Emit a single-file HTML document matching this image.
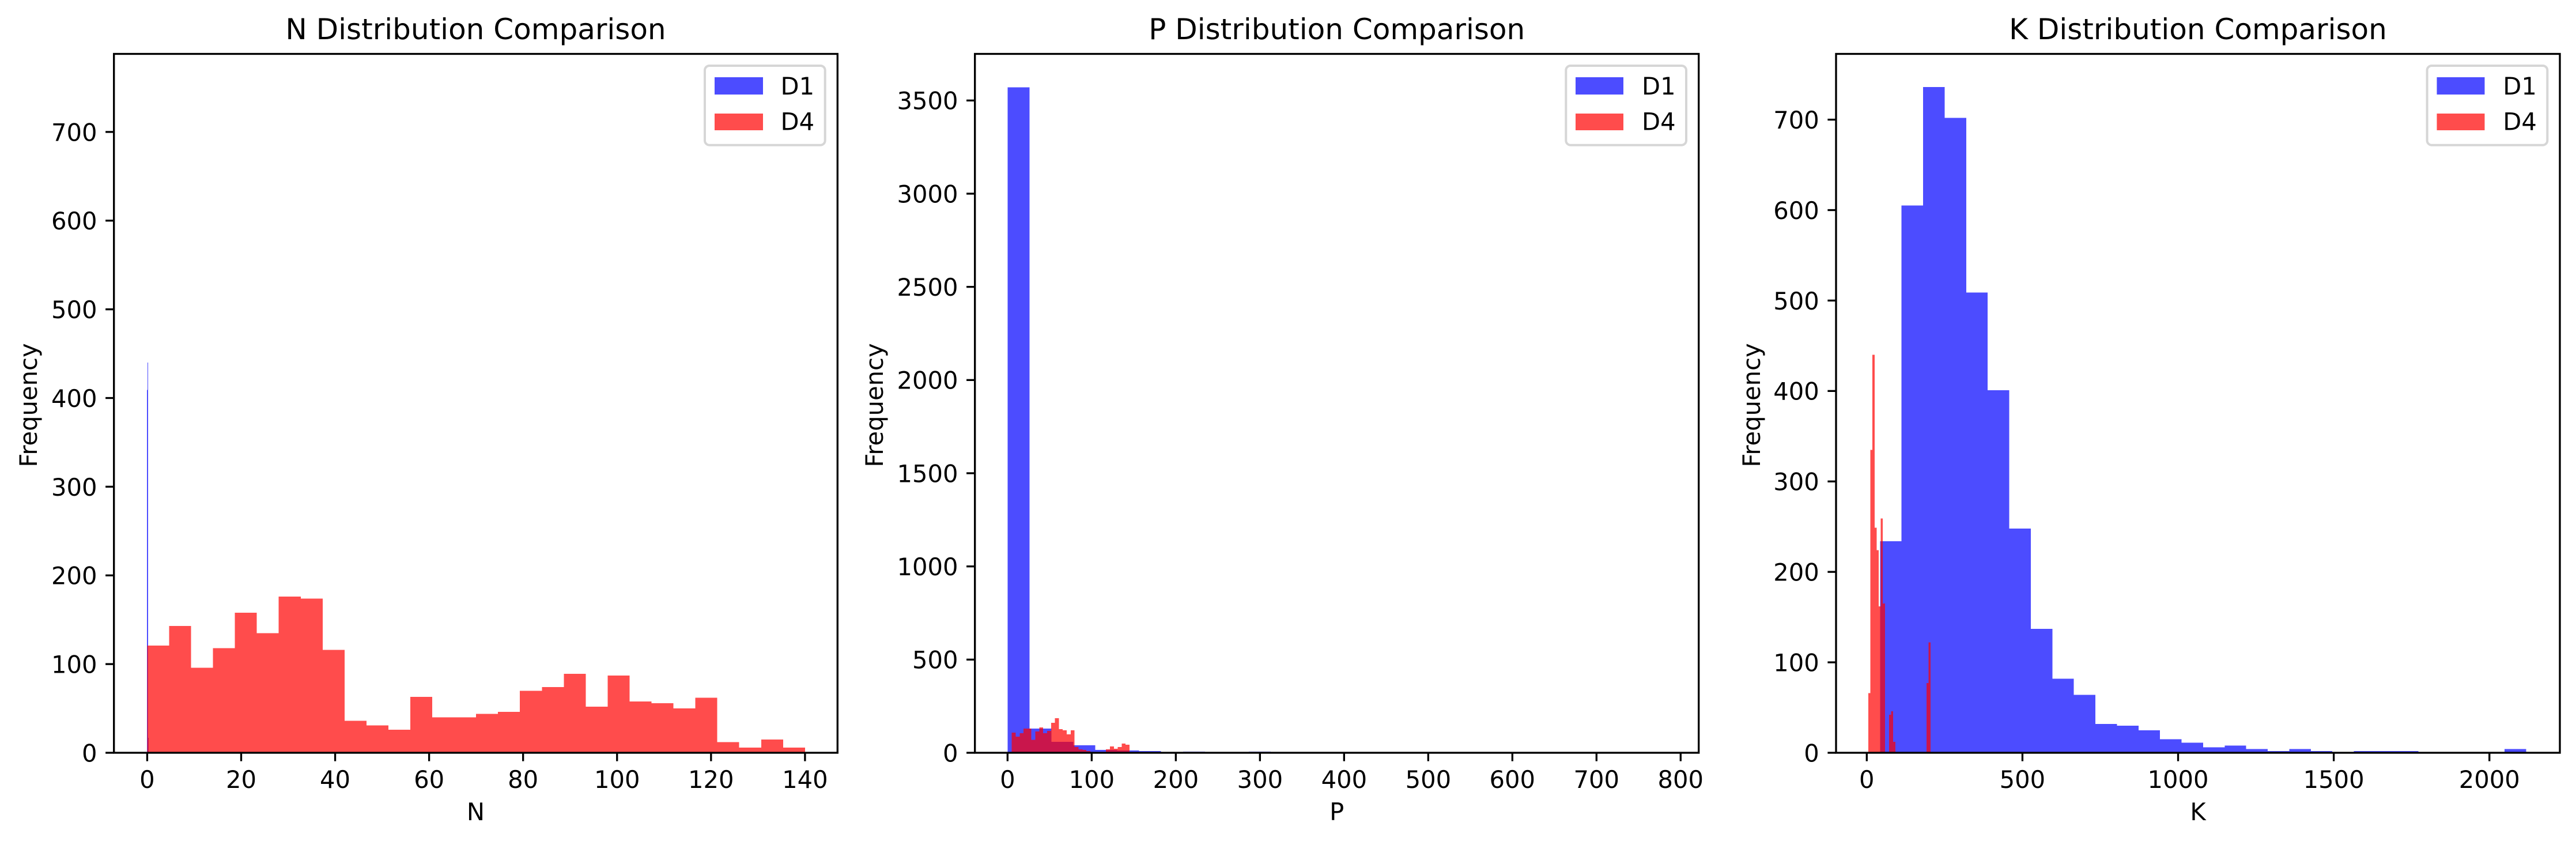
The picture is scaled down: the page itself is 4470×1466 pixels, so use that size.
<!DOCTYPE html>
<html lang="en">
<head>
<meta charset="utf-8">
<title>N, P and K Distribution Comparison</title>
<style>
html,body{margin:0;padding:0;background:#fff;width:4470px;height:1466px;overflow:hidden}
svg{display:block}
text{font-family:"DejaVu Sans","Liberation Sans",sans-serif;fill:#000}
.title{font-size:50px;text-anchor:middle}
.label{font-size:41.67px;text-anchor:middle}
.tick{font-size:41.67px}
.legend-text{font-size:41.67px}
.frame{fill:none;stroke:#000;stroke-width:3.33}
.legend-box{fill:#fff;fill-opacity:.8;stroke:#d6d6d6;stroke-width:4}
</style>
</head>
<body>
<svg id="figure" xmlns="http://www.w3.org/2000/svg" width="4470" height="1466" viewBox="0 0 4470 1466">
  <rect x="0" y="0" width="4470" height="1466" fill="#fff"/>

  <g id="panel-n">
    <text class="title" x="825.5" y="68">N Distribution Comparison</text>
    <g id="n-bars"></g>
    <g id="n-ticks"></g>
    <rect class="frame" x="197.7" y="93.5" width="1255.6" height="1212.5"/>
    <text class="label" x="825.5" y="1423">N</text>
    <text class="label" transform="translate(64,703) rotate(-90)">Frequency</text>
    <g>
      <rect class="legend-box" x="1223" y="114" width="208.7" height="137.7" rx="8" ry="8"/>
      <rect x="1240" y="134" width="84" height="30" fill="#0000ff" fill-opacity=".7" shape-rendering="crispEdges"/>
      <text class="legend-text" x="1354.5" y="164">D1</text>
      <rect x="1240" y="197" width="84" height="29" fill="#ff0000" fill-opacity=".7" shape-rendering="crispEdges"/>
      <text class="legend-text" x="1354.5" y="225.7">D4</text>
    </g>
  </g>

  <g id="panel-p">
    <text class="title" x="2319.7" y="68">P Distribution Comparison</text>
    <g id="p-bars"></g>
    <g id="p-ticks"></g>
    <rect class="frame" x="1691.7" y="93.5" width="1256" height="1212.5"/>
    <text class="label" x="2319.7" y="1423">P</text>
    <text class="label" transform="translate(1532,703) rotate(-90)">Frequency</text>
    <g>
      <rect class="legend-box" x="2717.3" y="114" width="208.7" height="137.7" rx="8" ry="8"/>
      <rect x="2734" y="134" width="83" height="30" fill="#0000ff" fill-opacity=".7" shape-rendering="crispEdges"/>
      <text class="legend-text" x="2849" y="164">D1</text>
      <rect x="2734" y="197" width="83" height="29" fill="#ff0000" fill-opacity=".7" shape-rendering="crispEdges"/>
      <text class="legend-text" x="2849" y="225.7">D4</text>
    </g>
  </g>

  <g id="panel-k">
    <text class="title" x="3814" y="68">K Distribution Comparison</text>
    <g id="k-bars"></g>
    <g id="k-ticks"></g>
    <rect class="frame" x="3186" y="93.5" width="1256" height="1212.5"/>
    <text class="label" x="3814" y="1423">K</text>
    <text class="label" transform="translate(3054,703) rotate(-90)">Frequency</text>
    <g>
      <rect class="legend-box" x="4211.6" y="114" width="208.7" height="137.7" rx="8" ry="8"/>
      <rect x="4228.3" y="134" width="83" height="30" fill="#0000ff" fill-opacity=".7" shape-rendering="crispEdges"/>
      <text class="legend-text" x="4343.3" y="164">D1</text>
      <rect x="4228.3" y="197" width="83" height="29" fill="#ff0000" fill-opacity=".7" shape-rendering="crispEdges"/>
      <text class="legend-text" x="4343.3" y="225.7">D4</text>
    </g>
  </g>
</svg>

<script>
// N panel data
const nXLimits = [-7.08, 146.92];
const nYLimits = [0, 788];
const nXTicks = [0, 20, 40, 60, 80, 100, 120, 140];
const nYTicks = [0, 100, 200, 300, 400, 500, 600, 700];
const nD1BinRange = [-0.0515, 0.3165];
const nD1Counts = [409, 440, 17];
const nD4BinRange = [0, 140];
const nD4Counts = [121, 143, 96, 118, 158, 135, 176, 174, 116, 36, 31, 26, 63, 40, 40, 44, 46, 70, 74, 89, 52, 87, 58, 56, 50, 62, 12, 6, 15, 6];

// P panel data
const pXLimits = [-38.8, 821.5];
const pYLimits = [0, 3750];
const pXTicks = [0, 100, 200, 300, 400, 500, 600, 700, 800];
const pYTicks = [0, 500, 1000, 1500, 2000, 2500, 3000, 3500];
const pD1BinRange = [0, 782];
const pD1Counts = [3570, 130, 59, 40, 15, 12, 9, 0, 6, 0, 0, 6, 0, 0, 0, 0, 0, 0, 0, 0, 0, 0, 0, 0, 0, 0, 0, 0, 0, 0];
const pD4BinRange = [5, 145];
const pD4Counts = [108, 87, 105, 130, 130, 70, 114, 136, 105, 118, 161, 186, 127, 121, 99, 121, 31, 19, 15, 9, 0, 0, 0, 0, 19, 34, 22, 31, 49, 43];

// K panel data
const kXLimits = [-98.7, 2226.3];
const kYLimits = [0, 772.7];
const kXTicks = [0, 500, 1000, 1500, 2000];
const kYTicks = [0, 100, 200, 300, 400, 500, 600, 700];
const kD1BinRange = [42.6, 2118];
const kD1Counts = [234, 605, 736, 702, 509, 401, 248, 137, 82, 64, 32, 30, 25, 15, 11, 6, 8, 4, 2, 4, 2, 0, 2, 2, 2, 0, 0, 0, 0, 4];
const kD4BinRange = [5, 205];
const kD4Counts = [66, 335, 440, 249, 224, 162, 259, 165, 0, 0, 42, 46, 12, 0, 0, 0, 0, 0, 0, 0, 0, 0, 0, 0, 0, 0, 0, 0, 77, 122];

const SVG_NS = 'http://www.w3.org/2000/svg';
const AXES_TOP = 93.5;
const AXES_BOTTOM = 1306;
const TICK_LENGTH = 14.6;

function makeXScale(limits, left, right) {
  return function (v) { return left + (v - limits[0]) / (limits[1] - limits[0]) * (right - left); };
}
function makeYScale(limits) {
  return function (v) { return AXES_BOTTOM - (v - limits[0]) / (limits[1] - limits[0]) * (AXES_BOTTOM - AXES_TOP); };
}

function drawSeries(groupId, prefix, seriesName, color, range, counts, x, y) {
  const group = document.getElementById(groupId);
  const binWidth = (range[1] - range[0]) / counts.length;
  counts.forEach(function (count, i) {
    const x0 = x(range[0] + i * binWidth);
    const x1 = x(range[0] + (i + 1) * binWidth);
    const rect = document.createElementNS(SVG_NS, 'rect');
    
    
    rect.setAttribute('x', x0);
    rect.setAttribute('y', y(count));
    rect.setAttribute('width', x1 - x0);
    rect.setAttribute('height', Math.max(0, y(0) - y(count)));
    rect.setAttribute('fill', color);
    rect.setAttribute('fill-opacity', '0.7');
    rect.setAttribute('shape-rendering', 'crispEdges');
    group.appendChild(rect);
  });
}

function drawTicks(groupId, prefix, xTicks, yTicks, left, x, y) {
  const group = document.getElementById(groupId);
  xTicks.forEach(function (value) {
    const px = x(value);
    const mark = document.createElementNS(SVG_NS, 'line');
    
    
    mark.setAttribute('x1', px);
    mark.setAttribute('x2', px);
    mark.setAttribute('y1', AXES_BOTTOM);
    mark.setAttribute('y2', AXES_BOTTOM + TICK_LENGTH);
    mark.setAttribute('stroke', '#000');
    mark.setAttribute('stroke-width', '3.33');
    group.appendChild(mark);
    const label = document.createElementNS(SVG_NS, 'text');
    
    
    label.setAttribute('class', 'tick');
    label.setAttribute('x', px);
    label.setAttribute('y', 1367);
    label.setAttribute('text-anchor', 'middle');
    label.textContent = String(value);
    group.appendChild(label);
  });
  yTicks.forEach(function (value) {
    const py = y(value);
    const mark = document.createElementNS(SVG_NS, 'line');
    
    
    mark.setAttribute('x1', left - TICK_LENGTH);
    mark.setAttribute('x2', left);
    mark.setAttribute('y1', py);
    mark.setAttribute('y2', py);
    mark.setAttribute('stroke', '#000');
    mark.setAttribute('stroke-width', '3.33');
    group.appendChild(mark);
    const label = document.createElementNS(SVG_NS, 'text');
    
    
    label.setAttribute('class', 'tick');
    label.setAttribute('x', left - 29.2);
    label.setAttribute('y', py + 15.4);
    label.setAttribute('text-anchor', 'end');
    label.textContent = String(value);
    group.appendChild(label);
  });
}

function drawPanel(prefix, left, right, xLimits, yLimits, xTicks, yTicks, d1Range, d1Counts, d4Range, d4Counts) {
  const x = makeXScale(xLimits, left, right);
  const y = makeYScale(yLimits);
  drawSeries(prefix + '-bars', prefix, 'd1', '#0000ff', d1Range, d1Counts, x, y);
  drawSeries(prefix + '-bars', prefix, 'd4', '#ff0000', d4Range, d4Counts, x, y);
  drawTicks(prefix + '-ticks', prefix, xTicks, yTicks, left, x, y);
}

drawPanel('n', 197.7, 1453.3, nXLimits, nYLimits, nXTicks, nYTicks, nD1BinRange, nD1Counts, nD4BinRange, nD4Counts);
drawPanel('p', 1691.7, 2947.7, pXLimits, pYLimits, pXTicks, pYTicks, pD1BinRange, pD1Counts, pD4BinRange, pD4Counts);
drawPanel('k', 3186, 4442, kXLimits, kYLimits, kXTicks, kYTicks, kD1BinRange, kD1Counts, kD4BinRange, kD4Counts);
</script>
</body>
</html>
